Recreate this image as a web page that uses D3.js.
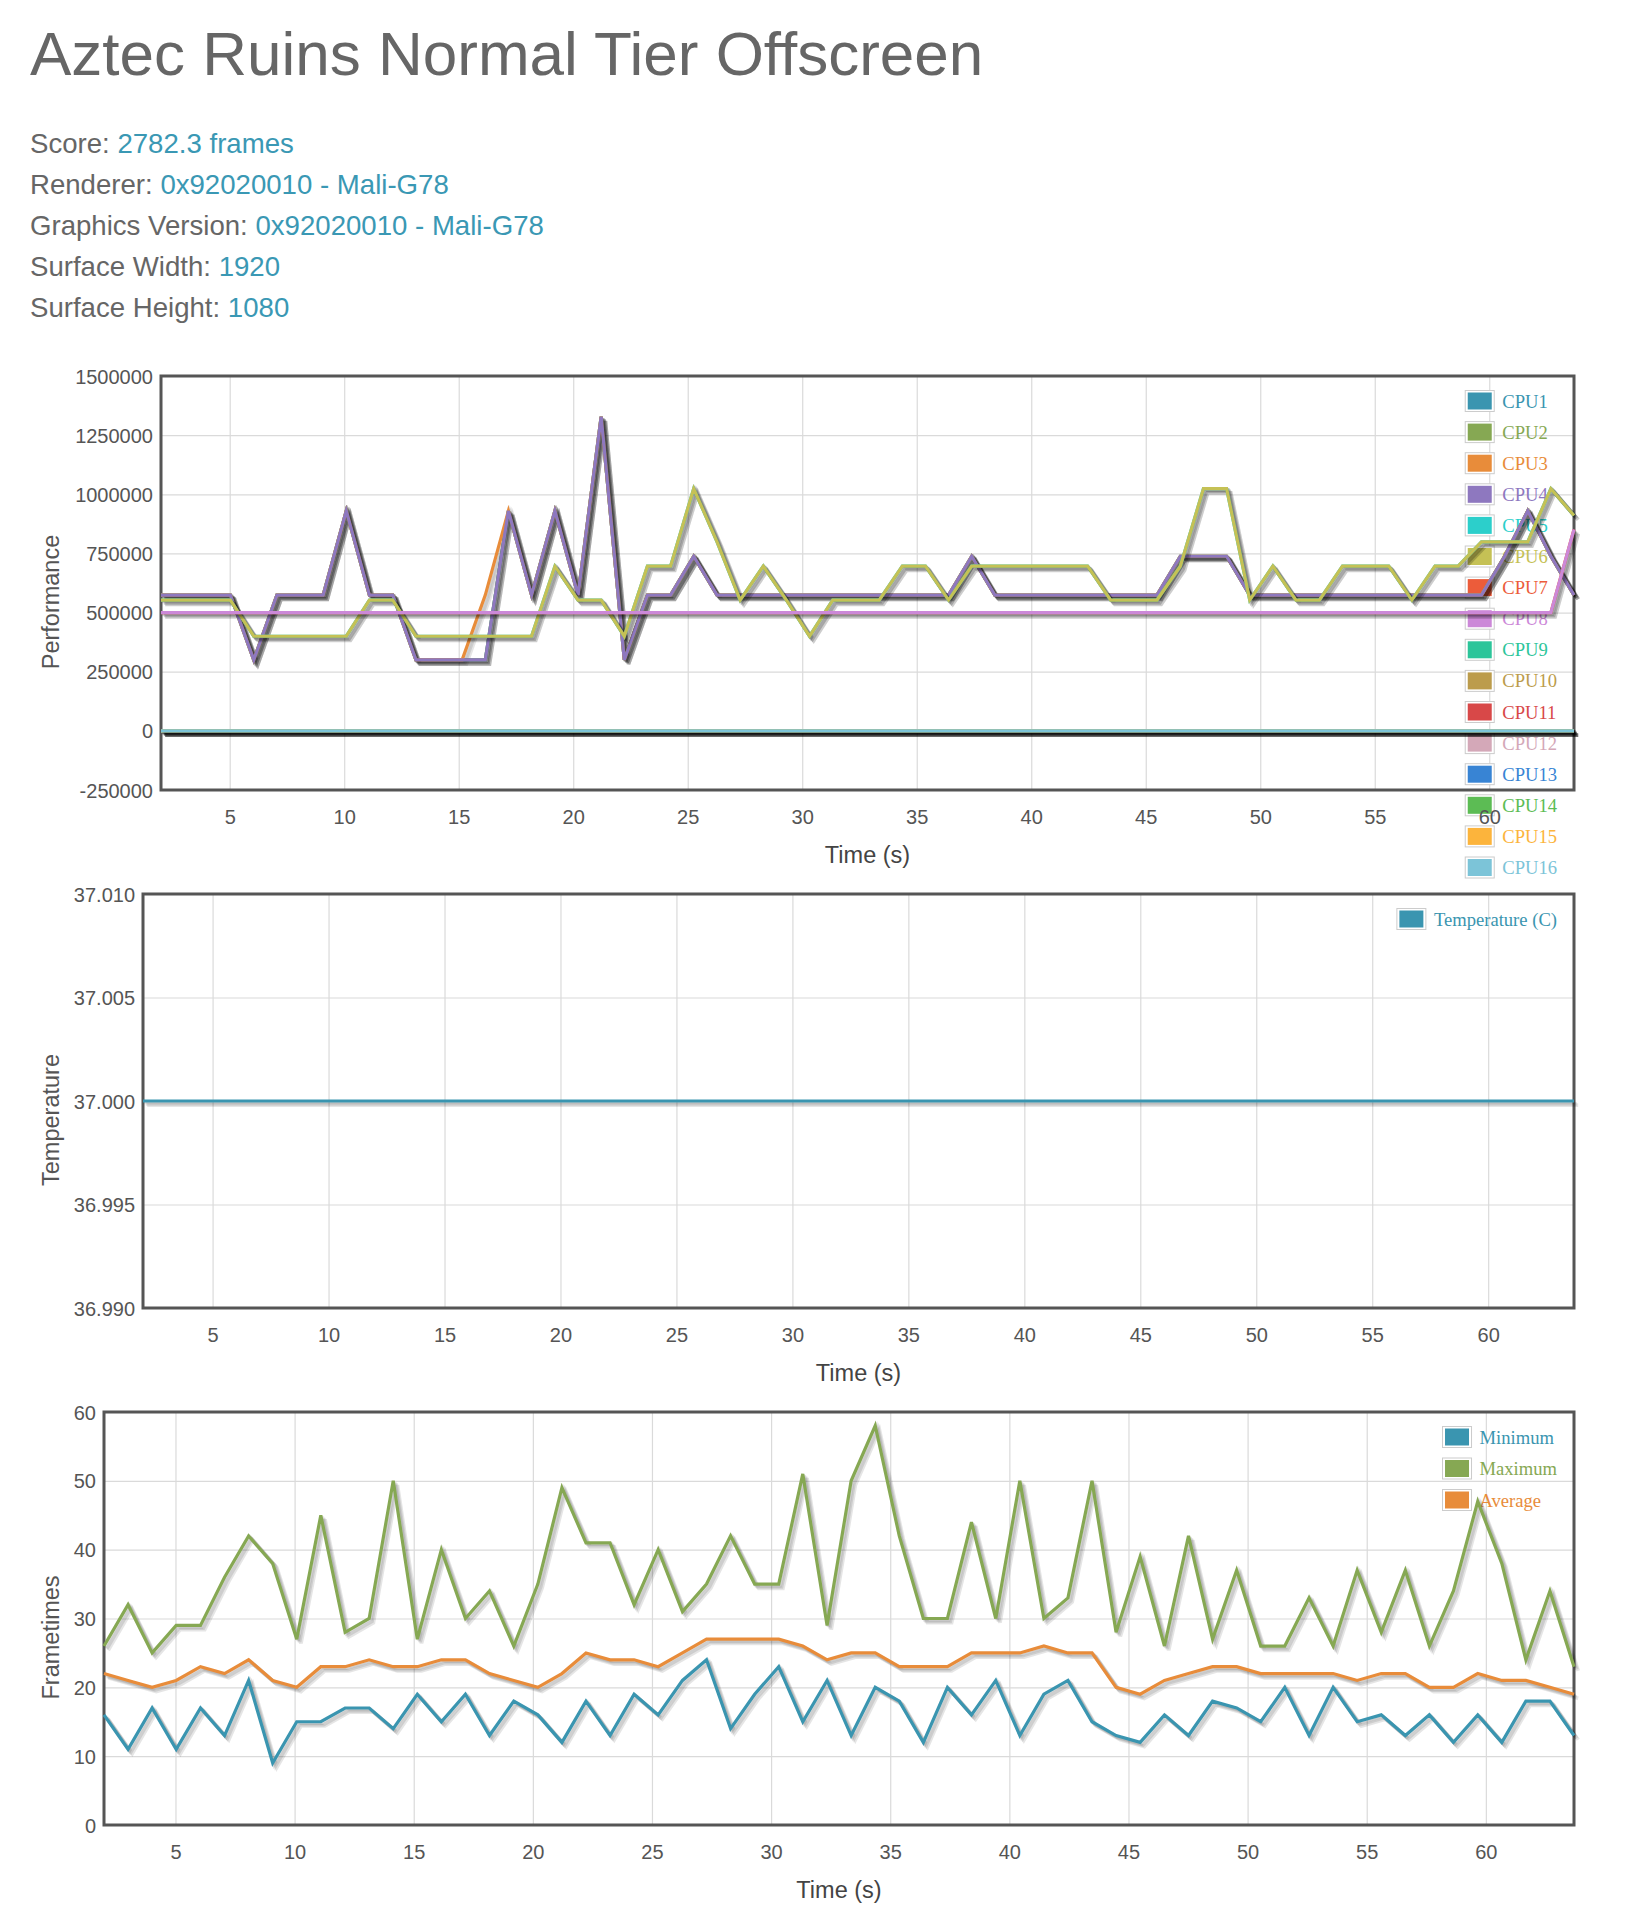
<!DOCTYPE html>
<html>
<head>
<meta charset="utf-8">
<script src="https://cdn.jsdelivr.net/npm/d3@7"></script>
<style>
	body { margin: 0; background: #fff; }
	svg text { font-family: "Liberation Sans", Arial, Helvetica, sans-serif; }
	svg .legend text { font-family: "Liberation Serif", "Times New Roman", serif; }
</style>
</head>
<body>
<div id="page"></div>
<script>
// ---- data ----
const title = "Aztec Ruins Normal Tier Offscreen";
const infoLabels = ["Score", "Renderer", "Graphics Version", "Surface Width", "Surface Height"];
const infoValues = ["2782.3 frames", "0x92020010 - Mali-G78", "0x92020010 - Mali-G78", "1920", "1080"];

// sample times (s)
const times = [2.00, 3.01, 4.02, 5.03, 6.05, 7.06, 8.07, 9.08, 10.09, 11.10,
	12.12, 13.13, 14.14, 15.15, 16.16, 17.17, 18.18, 19.20, 20.21, 21.22,
	22.23, 23.24, 24.25, 25.26, 26.28, 27.29, 28.30, 29.31, 30.32, 31.33,
	32.35, 33.36, 34.37, 35.38, 36.39, 37.40, 38.41, 39.43, 40.44, 41.45,
	42.46, 43.47, 44.48, 45.49, 46.51, 47.52, 48.53, 49.54, 50.55, 51.56,
	52.58, 53.59, 54.60, 55.61, 56.62, 57.63, 58.64, 59.66, 60.67, 61.68,
	62.69, 63.70];
const timeTicks = [5, 10, 15, 20, 25, 30, 35, 40, 45, 50, 55, 60];

// CPU frequencies (kHz): CPU1, CPU2, CPU4
const cpuLittle = [574000, 574000, 574000, 574000, 300000, 574000, 574000, 574000, 930000, 574000,
	574000, 300000, 300000, 300000, 300000, 930000, 574000, 930000, 574000, 1328000,
	300000, 574000, 574000, 738000, 574000, 574000, 574000, 574000, 574000, 574000,
	574000, 574000, 574000, 574000, 574000, 738000, 574000, 574000, 574000, 574000,
	574000, 574000, 574000, 574000, 738000, 738000, 738000, 574000, 574000, 574000,
	574000, 574000, 574000, 574000, 574000, 574000, 574000, 574000, 738000, 930000,
	738000, 574000];
// CPU3
const cpu3 = [574000, 574000, 574000, 574000, 300000, 574000, 574000, 574000, 930000, 574000,
	574000, 300000, 300000, 300000, 574000, 930000, 574000, 930000, 574000, 1328000,
	300000, 574000, 574000, 738000, 574000, 574000, 574000, 574000, 574000, 574000,
	574000, 574000, 574000, 574000, 574000, 738000, 574000, 574000, 574000, 574000,
	574000, 574000, 574000, 574000, 738000, 738000, 738000, 574000, 574000, 574000,
	574000, 574000, 574000, 574000, 574000, 574000, 574000, 574000, 738000, 930000,
	738000, 574000];
// CPU5, CPU6
const cpuMid = [553000, 553000, 553000, 553000, 400000, 400000, 400000, 400000, 400000, 553000,
	553000, 400000, 400000, 400000, 400000, 400000, 400000, 696000, 553000, 553000,
	400000, 696000, 696000, 1024000, 799000, 553000, 696000, 553000, 400000, 553000,
	553000, 553000, 696000, 696000, 553000, 696000, 696000, 696000, 696000, 696000,
	696000, 553000, 553000, 553000, 696000, 1024000, 1024000, 553000, 696000, 553000,
	553000, 696000, 696000, 696000, 553000, 696000, 696000, 799000, 799000, 799000,
	1024000, 910000];
// CPU7, CPU8
const cpuBig = [500000, 500000, 500000, 500000, 500000, 500000, 500000, 500000, 500000, 500000,
	500000, 500000, 500000, 500000, 500000, 500000, 500000, 500000, 500000, 500000,
	500000, 500000, 500000, 500000, 500000, 500000, 500000, 500000, 500000, 500000,
	500000, 500000, 500000, 500000, 500000, 500000, 500000, 500000, 500000, 500000,
	500000, 500000, 500000, 500000, 500000, 500000, 500000, 500000, 500000, 500000,
	500000, 500000, 500000, 500000, 500000, 500000, 500000, 500000, 500000, 500000,
	500000, 851000];
// CPU9 .. CPU16
const cpuOff = [0, 0, 0, 0, 0, 0, 0, 0, 0, 0, 0, 0, 0, 0, 0, 0, 0, 0, 0, 0,
	0, 0, 0, 0, 0, 0, 0, 0, 0, 0, 0, 0, 0, 0, 0, 0, 0, 0, 0, 0,
	0, 0, 0, 0, 0, 0, 0, 0, 0, 0, 0, 0, 0, 0, 0, 0, 0, 0, 0, 0, 0, 0];
const cpuNames = ["CPU1", "CPU2", "CPU3", "CPU4", "CPU5", "CPU6", "CPU7", "CPU8",
	"CPU9", "CPU10", "CPU11", "CPU12", "CPU13", "CPU14", "CPU15", "CPU16"];
const cpuValues = [cpuLittle, cpuLittle, cpu3, cpuLittle, cpuMid, cpuMid, cpuBig, cpuBig,
	cpuOff, cpuOff, cpuOff, cpuOff, cpuOff, cpuOff, cpuOff, cpuOff];
const perfTicks = [-250000, 0, 250000, 500000, 750000, 1000000, 1250000, 1500000];

// temperature (C)
const temperature = [37, 37, 37, 37, 37, 37, 37, 37, 37, 37, 37, 37, 37, 37, 37, 37, 37, 37, 37, 37,
	37, 37, 37, 37, 37, 37, 37, 37, 37, 37, 37, 37, 37, 37, 37, 37, 37, 37, 37, 37,
	37, 37, 37, 37, 37, 37, 37, 37, 37, 37, 37, 37, 37, 37, 37, 37, 37, 37, 37, 37, 37, 37];
const tempTicks = [36.990, 36.995, 37.000, 37.005, 37.010];

// frametimes (ms)
const frameMin = [16, 11, 17, 11, 17, 13, 21, 9, 15, 15, 17, 17, 14, 19, 15, 19, 13, 18, 16, 12,
	18, 13, 19, 16, 21, 24, 14, 19, 23, 15, 21, 13, 20, 18, 12, 20, 16, 21, 13, 19,
	21, 15, 13, 12, 16, 13, 18, 17, 15, 20, 13, 20, 15, 16, 13, 16, 12, 16, 12, 18, 18, 13];
const frameMax = [26, 32, 25, 29, 29, 36, 42, 38, 27, 45, 28, 30, 50, 27, 40, 30, 34, 26, 35, 49,
	41, 41, 32, 40, 31, 35, 42, 35, 35, 51, 29, 50, 58, 42, 30, 30, 44, 30, 50, 30,
	33, 50, 28, 39, 26, 42, 27, 37, 26, 26, 33, 26, 37, 28, 37, 26, 34, 47, 38, 24, 34, 23];
const frameAvg = [22, 21, 20, 21, 23, 22, 24, 21, 20, 23, 23, 24, 23, 23, 24, 24, 22, 21, 20, 22,
	25, 24, 24, 23, 25, 27, 27, 27, 27, 26, 24, 25, 25, 23, 23, 23, 25, 25, 25, 26,
	25, 25, 20, 19, 21, 22, 23, 23, 22, 22, 22, 22, 21, 22, 22, 20, 20, 22, 21, 21, 20, 19];
const frameNames = ["Minimum", "Maximum", "Average"];
const frameTicks = [0, 10, 20, 30, 40, 50, 60];

const palette = ["#3a95b0", "#86a853", "#e88c3a", "#8e78bf", "#2ccfcb", "#c5c155", "#ec5c3a", "#cc88d8",
	"#2cc59a", "#bc9c4c", "#d84848", "#d4a8b8", "#3884d4", "#5cbc54", "#fcb43c", "#7cc4d8"];

// ---- page ----
const svg = d3.select("#page").append("svg")
	.attr("width", 1628).attr("height", 1920);

svg.append("text")
	.attr("x", 30).attr("y", 75)
	.attr("font-size", 62).attr("fill", "#666")
	.text(title);

infoLabels.forEach((label, i) => {
	const t = svg.append("text")
		.attr("x", 30).attr("y", 153 + i * 41)
		.attr("font-size", 27.6);
	t.append("tspan").attr("fill", "#666").text(label + ": ");
	t.append("tspan").attr("fill", "#3a98b4").text(infoValues[i]);
});

// plain numbers with an ascii minus, like the original labels
const plain = d => String(d);
const fixed3 = d => d.toFixed(3);

/*
 box: [left, top, right, bottom] of the plot frame
 series: [{name, values, color}]
*/
function lineChart(box, yDomain, yTicks, yFormat, yTitle, series, rowH) {
	const [left, top, right, bottom] = box;
	const x = d3.scaleLinear().domain([times[0], times[times.length - 1]]).range([left, right]);
	const y = d3.scaleLinear().domain(yDomain).range([bottom, top]);
	const g = svg.append("g");

	// grid
	const gx = g.append("g").attr("transform", `translate(0,${bottom})`)
		.call(d3.axisBottom(x).tickValues(timeTicks).tickSize(-(bottom - top)).tickFormat(""));
	const gy = g.append("g").attr("transform", `translate(${left},0)`)
		.call(d3.axisLeft(y).tickValues(yTicks).tickSize(-(right - left)).tickFormat(""));
	[gx, gy].forEach(a => {
		a.select(".domain").remove();
		a.selectAll("line").attr("stroke", "#dadada").attr("stroke-width", 1.2);
	});

	g.append("rect")
		.attr("x", left).attr("y", top)
		.attr("width", right - left).attr("height", bottom - top)
		.attr("fill", "none").attr("stroke", "#555").attr("stroke-width", 3);

	// legend (under the lines, like the original)
	const legend = g.append("g").classed("legend", true);
	const labels = legend.selectAll("text").data(series).join("text")
		.attr("y", (d, i) => top + 25 + i * rowH)
		.attr("dy", "0.35em")
		.attr("font-size", 18.6)
		.attr("fill", d => d.color)
		.text(d => d.name);
	const maxW = d3.max(labels.nodes(), n => n.getComputedTextLength());
	const textX = right - 17 - maxW;
	labels.attr("x", textX);
	legend.selectAll("rect.box").data(series).join("rect").classed("box", true)
		.attr("x", textX - 37).attr("y", (d, i) => top + 25 + i * rowH - 10.5)
		.attr("width", 29).attr("height", 21)
		.attr("fill", "#fff").attr("stroke", "#ccc").attr("stroke-width", 1);
	legend.selectAll("rect.swatch").data(series).join("rect").classed("swatch", true)
		.attr("x", textX - 34.5).attr("y", (d, i) => top + 25 + i * rowH - 8.5)
		.attr("width", 24).attr("height", 17)
		.attr("fill", d => d.color);

	// series: shadow then line, in order
	const line = d3.line().x((d, i) => x(times[i])).y(d => y(d));
	series.forEach(s => {
		const sg = g.append("g");
		[1, 2, 3].forEach(j => {
			sg.append("path").attr("d", line(s.values))
				.attr("transform", `translate(${1.4 * j},${1.4 * j})`)
				.attr("fill", "none").attr("stroke", "rgba(0,0,0,0.1)").attr("stroke-width", 3.8);
		});
		sg.append("path").attr("d", line(s.values))
			.attr("fill", "none").attr("stroke", s.color).attr("stroke-width", 3.2);
	});

	// tick labels
	const ax = g.append("g").attr("transform", `translate(0,${bottom})`)
		.call(d3.axisBottom(x).tickValues(timeTicks).tickSize(0));
	ax.selectAll("text").attr("y", 27).attr("dy", "0.35em");
	const ay = g.append("g").attr("transform", `translate(${left},0)`)
		.call(d3.axisLeft(y).tickValues(yTicks).tickSize(0).tickFormat(yFormat));
	ay.selectAll("text").attr("x", -8).attr("dy", "0.35em");
	[ax, ay].forEach(a => {
		a.select(".domain").remove();
		a.attr("font-family", null).attr("font-size", null);
		a.selectAll("text").attr("font-size", 20).attr("fill", "#555");
	});

	g.append("text")
		.attr("x", (left + right) / 2).attr("y", bottom + 65).attr("dy", "0.35em")
		.attr("text-anchor", "middle").attr("font-size", 23.5).attr("fill", "#444")
		.text("Time (s)");
	g.append("text")
		.attr("transform", `translate(51,${(top + bottom) / 2 + 19}) rotate(-90)`)
		.attr("dy", "0.35em")
		.attr("text-anchor", "middle").attr("font-size", 23.5).attr("fill", "#555")
		.text(yTitle);
}

lineChart([161, 376, 1574, 790], [-250000, 1500000], perfTicks, plain, "Performance",
	cpuNames.map((n, i) => ({ name: n, values: cpuValues[i], color: palette[i] })), 31.1);

lineChart([143, 894, 1574, 1308], [36.99, 37.01], tempTicks, fixed3, "Temperature",
	[{ name: "Temperature (C)", values: temperature, color: palette[0] }], 31.1);

lineChart([104, 1412, 1574, 1825], [0, 60], frameTicks, plain, "Frametimes",
	[frameMin, frameMax, frameAvg].map((v, i) => ({ name: frameNames[i], values: v, color: palette[i] })), 31.5);
</script>
</body>
</html>
